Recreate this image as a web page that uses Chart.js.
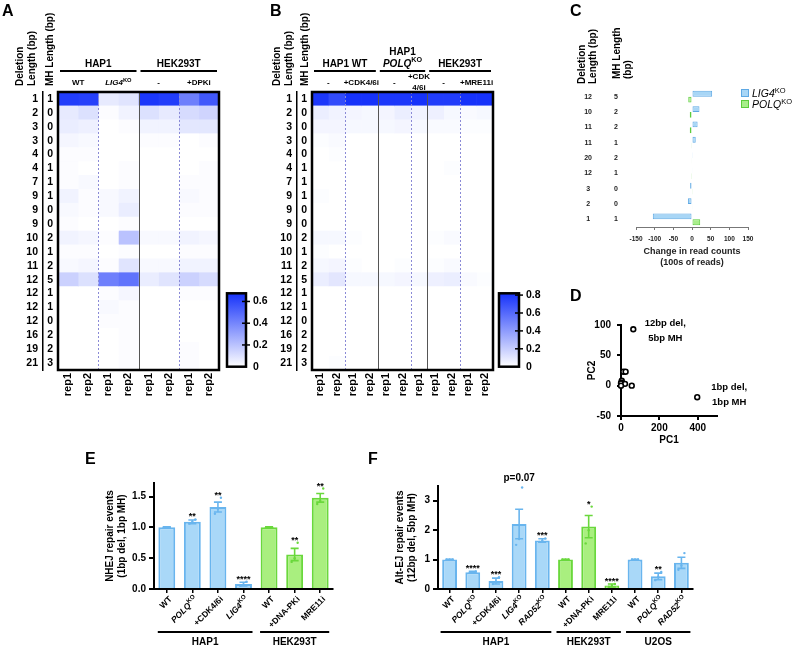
<!DOCTYPE html>
<html>
<head>
<meta charset="utf-8">
<title>Repair outcome profiles</title>
<script src="https://cdn.jsdelivr.net/npm/chart.js@4.4.1/dist/chart.umd.min.js"></script>
<style>
  body { margin: 0; background: #fff; }
  #fig { position: relative; width: 793px; height: 648px; overflow: hidden; font-family: 'Liberation Sans', Arial, sans-serif; color: #000; }
  #fig canvas { position: absolute; }
  .tag { position: absolute; font-size: 16px; line-height: 16px; font-weight: bold; }
  .key { position: absolute; font-size: 10.5px; line-height: 11px; white-space: nowrap; }
  .key span { display: inline-block; width: 6px; height: 6px; border: 1px solid; margin-right: 3px; }
  .key sup { font-size: 7.5px; line-height: 0; vertical-align: 4px; }
</style>
</head>
<body>
<div id="fig">
  <canvas id="heatA" width="270" height="400" style="left:0;top:0"></canvas>
  <canvas id="scaleA" width="50" height="100" style="left:220px;top:280px"></canvas>
  <canvas id="heatB" width="260" height="400" style="left:270px;top:0"></canvas>
  <canvas id="scaleB" width="50" height="100" style="left:492px;top:280px"></canvas>
  <canvas id="diffC" width="223" height="275" style="left:570px;top:0"></canvas>
  <canvas id="pcaD" width="223" height="165" style="left:570px;top:285px"></canvas>
  <canvas id="nhejE" width="255" height="198" style="left:80px;top:450px"></canvas>
  <canvas id="altF" width="335" height="198" style="left:360px;top:450px"></canvas>

  <div class="tag" style="left:2px;top:3px">A</div>
  <div class="tag" style="left:270px;top:3px">B</div>
  <div class="tag" style="left:570px;top:3px">C</div>
  <div class="tag" style="left:570px;top:288px">D</div>
  <div class="tag" style="left:85px;top:451px">E</div>
  <div class="tag" style="left:368px;top:451px">F</div>

  <div class="key" style="left:741px;top:88px"><span style="background:#a8d6f6;border-color:#5fa9e4"></span><i>LIG4</i><sup>KO</sup></div>
  <div class="key" style="left:741px;top:99px"><span style="background:#a8ee8a;border-color:#5ccc3c"></span><i>POLQ</i><sup>KO</sup></div>
</div>
<script>
// Fonts and defaults
const FONT = "'Liberation Sans', Arial, sans-serif";
Chart.defaults.font.family = FONT;
Chart.defaults.font.weight = 'bold';
Chart.defaults.color = '#000';
Chart.defaults.animation = false;
Chart.defaults.responsive = false;
Chart.defaults.devicePixelRatio = 1;
Chart.defaults.plugins.legend.display = false;
Chart.defaults.plugins.tooltip.enabled = false;

// ---------- Heatmap rows (shared by A and B) ----------
const hmDel = ['1','2','3','3','4','4','7','9','9','9','10','10','11','12','12','12','12','16','19','21'];
const hmMH  = ['1','0','0','0','0','1','1','1','0','0','2','1','2','5','1','1','0','2','2','3'];

// A: HAP1 WT, HAP1 LIG4KO, HEK293T -, HEK293T +DPKi (two reps each)
const aReps = ['rep1','rep2','rep1','rep2','rep1','rep2','rep1','rep2'];
const aFrac = [
  [0.64, 0.63, 0.07, 0.09, 0.66, 0.64, 0.42, 0.55],
  [0.07, 0.10, 0.01, 0.04, 0.10, 0.07, 0.12, 0.14],
  [0.06, 0.05, 0.00, 0.01, 0.04, 0.04, 0.08, 0.08],
  [0.03, 0.02, 0.00, 0.00, 0.01, 0.01, 0.00, 0.01],
  [0.01, 0.01, 0.00, 0.00, 0.00, 0.00, 0.00, 0.00],
  [0.01, 0.00, 0.00, 0.01, 0.00, 0.00, 0.00, 0.01],
  [0.01, 0.02, 0.00, 0.01, 0.00, 0.00, 0.01, 0.01],
  [0.04, 0.01, 0.02, 0.04, 0.00, 0.00, 0.02, 0.01],
  [0.02, 0.01, 0.02, 0.06, 0.00, 0.00, 0.01, 0.01],
  [0.01, 0.00, 0.00, 0.01, 0.00, 0.00, 0.00, 0.00],
  [0.04, 0.03, 0.01, 0.20, 0.02, 0.02, 0.04, 0.03],
  [0.01, 0.01, 0.00, 0.01, 0.00, 0.00, 0.01, 0.01],
  [0.02, 0.03, 0.01, 0.09, 0.02, 0.02, 0.04, 0.04],
  [0.15, 0.10, 0.42, 0.46, 0.06, 0.09, 0.15, 0.12],
  [0.00, 0.00, 0.01, 0.03, 0.00, 0.00, 0.01, 0.01],
  [0.00, 0.00, 0.02, 0.01, 0.00, 0.00, 0.00, 0.00],
  [0.00, 0.00, 0.01, 0.01, 0.00, 0.00, 0.00, 0.00],
  [0.00, 0.00, 0.00, 0.01, 0.00, 0.00, 0.00, 0.00],
  [0.00, 0.00, 0.00, 0.01, 0.00, 0.00, 0.01, 0.00],
  [0.00, 0.00, 0.00, 0.01, 0.00, 0.00, 0.01, 0.00]
];
const aMax = 0.675;
const aScaleTicks = [0, 0.2, 0.4, 0.6];

// B: HAP1 WT -/+CDK4/6i, HAP1 POLQKO -/+CDK4/6i, HEK293T -/+MRE11i
const bReps = ['rep1','rep2','rep1','rep2','rep1','rep2','rep1','rep1','rep2','rep1','rep2'];
const bFrac = [
  [0.80, 0.72, 0.82, 0.82, 0.80, 0.80, 0.82, 0.78, 0.78, 0.82, 0.82],
  [0.07, 0.05, 0.04, 0.03, 0.04, 0.07, 0.05, 0.06, 0.03, 0.02, 0.03],
  [0.04, 0.04, 0.03, 0.03, 0.03, 0.04, 0.03, 0.02, 0.02, 0.01, 0.01],
  [0.01, 0.02, 0.00, 0.00, 0.00, 0.00, 0.00, 0.00, 0.00, 0.00, 0.00],
  [0.00, 0.01, 0.00, 0.00, 0.00, 0.00, 0.00, 0.00, 0.00, 0.00, 0.00],
  [0.00, 0.00, 0.00, 0.00, 0.00, 0.00, 0.00, 0.00, 0.01, 0.00, 0.00],
  [0.00, 0.00, 0.00, 0.00, 0.00, 0.00, 0.00, 0.00, 0.00, 0.00, 0.00],
  [0.01, 0.00, 0.00, 0.00, 0.00, 0.00, 0.00, 0.00, 0.00, 0.00, 0.00],
  [0.00, 0.00, 0.00, 0.00, 0.00, 0.00, 0.00, 0.00, 0.00, 0.00, 0.00],
  [0.00, 0.00, 0.00, 0.00, 0.00, 0.00, 0.00, 0.00, 0.00, 0.00, 0.00],
  [0.03, 0.03, 0.01, 0.00, 0.00, 0.00, 0.00, 0.01, 0.02, 0.00, 0.00],
  [0.01, 0.00, 0.00, 0.00, 0.00, 0.00, 0.00, 0.00, 0.00, 0.00, 0.00],
  [0.03, 0.04, 0.01, 0.00, 0.00, 0.01, 0.00, 0.01, 0.02, 0.00, 0.00],
  [0.07, 0.10, 0.03, 0.03, 0.03, 0.04, 0.03, 0.06, 0.07, 0.02, 0.01],
  [0.00, 0.00, 0.00, 0.00, 0.00, 0.00, 0.00, 0.00, 0.00, 0.00, 0.00],
  [0.00, 0.00, 0.00, 0.00, 0.00, 0.00, 0.00, 0.00, 0.00, 0.00, 0.00],
  [0.00, 0.00, 0.00, 0.00, 0.00, 0.00, 0.00, 0.00, 0.00, 0.00, 0.00],
  [0.00, 0.00, 0.00, 0.00, 0.00, 0.00, 0.00, 0.00, 0.00, 0.00, 0.00],
  [0.00, 0.00, 0.00, 0.00, 0.00, 0.00, 0.00, 0.00, 0.00, 0.00, 0.00],
  [0.00, 0.01, 0.00, 0.00, 0.00, 0.00, 0.00, 0.00, 0.00, 0.00, 0.00]
];
const bMax = 0.82;
const bScaleTicks = [0, 0.2, 0.4, 0.6, 0.8];

// ---------- C: change in read counts (100s of reads) ----------
const cDel = ['12','10','11','11','20','12','3','2','1'];
const cMH  = ['5','2','2','1','2','1','0','0','1'];
const cLig4 = [54, 20, 15, 10, 2, 1, -5, -11, -105];
const cPolq = [-10, -6, -6, -2, -1, -0.5, 2, 1, 22];
const cTicks = [-150, -100, -50, 0, 50, 100, 150];

// ---------- D: PCA ----------
const pc1 = [64, 397, 12, 24, 4, 2, 6, 0, 21, 56, 0];
const pc2 = [93, -19, 23, 23, 8, 5, 3, 4, 3, 0, 0];
const pcNotes = [['12bp del,', '5bp MH'], ['1bp del,', '1bp MH']];
const dXTicks = [0, 200, 400];
const dYTicks = [-50, 0, 50, 100];

// ---------- E: NHEJ repair events (1bp del, 1bp MH) ----------
const eLabels = ['WT', 'POLQ^KO', '+CDK4/6i', 'LIG4^KO', 'WT', '+DNA-PKi', 'MRE11i'];
const eVals  = [1.00, 1.09, 1.33, 0.08, 1.00, 0.56, 1.48];
const eErrs  = [0.01, 0.03, 0.08, 0.03, 0.01, 0.10, 0.07];
const eReps  = [[1, 1, 1], [1.06, 1.09, 1.13], [1.22, 1.30, 1.48], [0.05, 0.07, 0.12],
                [1, 1, 1], [0.44, 0.50, 0.75], [1.38, 1.43, 1.63]];
const eStars = ['', '**', '**', '****', '', '**', '**'];
const eTone  = ['b', 'b', 'b', 'b', 'g', 'g', 'g'];
const eGroups = [{label: 'HAP1', from: 0, to: 3}, {label: 'HEK293T', from: 4, to: 6}];
const eTicks = [0, 0.5, 1, 1.5];

// ---------- F: Alt-EJ repair events (12bp del, 5bp MH) ----------
const fLabels = ['WT', 'POLQ^KO', '+CDK4/6i', 'LIG4^KO', 'RAD52^KO', 'WT', '+DNA-PKi', 'MRE11i', 'WT', 'POLQ^KO', 'RAD52^KO'];
const fVals  = [1.00, 0.57, 0.27, 2.21, 1.65, 1.00, 2.12, 0.12, 1.00, 0.43, 0.89];
const fErrs  = [0.01, 0.03, 0.10, 0.50, 0.06, 0.01, 0.38, 0.05, 0.01, 0.11, 0.19];
const fReps  = [[1, 1, 1], [0.55, 0.57, 0.60], [0.17, 0.25, 0.40], [1.50, 1.70, 3.45], [1.60, 1.64, 1.72],
                [1, 1, 1], [1.55, 2.00, 2.80], [0.08, 0.12, 0.17], [1, 1, 1], [0.30, 0.42, 0.58], [0.65, 0.80, 1.22]];
const fStars = ['', '****', '***', '', '***', '', '*', '****', '', '**', ''];
const fTone  = ['b', 'b', 'b', 'b', 'b', 'g', 'g', 'g', 'b', 'b', 'b'];
const fGroups = [{label: 'HAP1', from: 0, to: 4}, {label: 'HEK293T', from: 5, to: 7}, {label: 'U2OS', from: 8, to: 10}];
const fNote = {at: 3, y: 3.75, text: 'p=0.07'};
const fTicks = [0, 1, 2, 3];

// Bar colours
const FILL = {b: '#a9d8f8', g: '#a9ef7f'};
const LINE = {b: '#69b5ee', g: '#6ad83c'};

// ---------- helpers ----------
function heatColor(v, max) {
  const t = Math.max(0, Math.min(1, v / max));
  const r = Math.round(255 - t * (255 - 22));
  const g = Math.round(255 - t * (255 - 50));
  const b = Math.round(255 - t * 5);
  return `rgb(${r},${g},${b})`;
}

// "POLQ^KO" -> italic POLQ + superscript KO
function richParts(s) {
  const i = s.indexOf('^');
  if (i < 0) return [{t: s}];
  return [{t: s.slice(0, i), it: true}, {t: s.slice(i + 1), sup: true}];
}

function drawRich(ctx, s, x, y, size, align) {
  const parts = richParts(s);
  const fontOf = p => (p.it ? 'italic ' : '') + 'bold ' + (p.sup ? size * 0.72 : size) + 'px ' + FONT;
  let w = 0;
  parts.forEach(p => { ctx.font = fontOf(p); w += ctx.measureText(p.t).width; });
  let cx = align === 'center' ? x - w / 2 : (align === 'right' ? x - w : x);
  ctx.textAlign = 'left';
  ctx.textBaseline = 'middle';
  parts.forEach(p => {
    ctx.font = fontOf(p);
    ctx.fillText(p.t, cx, p.sup ? y - size * 0.38 : y);
    cx += ctx.measureText(p.t).width;
  });
}

// Text lines turned 90 degrees, reading upward, starting at "bottom"
function drawUpright(ctx, lines, cx, bottom, gap, size) {
  lines.forEach((ln, i) => {
    const x = cx + (i - (lines.length - 1) / 2) * gap;
    ctx.save();
    ctx.translate(x, bottom);
    ctx.rotate(-Math.PI / 2);
    ctx.font = 'bold ' + size + 'px ' + FONT;
    ctx.fillStyle = '#000';
    ctx.textAlign = 'left';
    ctx.textBaseline = 'middle';
    ctx.fillText(ln, 0, 0);
    ctx.restore();
  });
}

const fixedTicks = list => scale => { scale.ticks = list.map(v => ({value: v})); };

/**
 * Heatmap as stacked horizontal bars: one dataset per column, one category per row
 */
function heatmap(id, frac, max, reps, look) {
  const datasets = reps.map((r, c) => ({
    data: hmDel.map(() => 1),
    backgroundColor: frac.map(row => heatColor(row[c], max)),
    borderWidth: 0,
    barPercentage: 1,
    categoryPercentage: 1
  }));

  const deco = {
    id: 'heatDeco',
    afterDatasetsDraw(chart) {
      const {ctx, chartArea: a} = chart;
      const x = chart.scales.x;
      ctx.save();
      // column separators
      look.seps.forEach(s => {
        const px = Math.round(x.getPixelForValue(s.at)) + 0.5;
        ctx.beginPath();
        ctx.setLineDash(s.dash ? [2, 2] : []);
        ctx.strokeStyle = s.dash ? '#8a8ad6' : '#555';
        ctx.lineWidth = 1;
        ctx.moveTo(px, a.top);
        ctx.lineTo(px, a.bottom);
        ctx.stroke();
      });
      ctx.setLineDash([]);
      // frame
      ctx.lineWidth = 2.5;
      ctx.strokeStyle = '#000';
      ctx.strokeRect(a.left, a.top, a.right - a.left, a.bottom - a.top);
      // cell line headers
      ctx.fillStyle = '#000';
      look.groups.forEach(g => {
        const x1 = x.getPixelForValue(g.from), x2 = x.getPixelForValue(g.to);
        const cx = (x1 + x2) / 2;
        g.lines.forEach((ln, i) => drawRich(ctx, ln, cx, a.top - 28 - (g.lines.length - 1 - i) * 12, 10, 'center'));
        ctx.lineWidth = 2;
        ctx.beginPath();
        ctx.moveTo(x1 + 2, a.top - 21);
        ctx.lineTo(x2 - 2, a.top - 21);
        ctx.stroke();
      });
      look.subs.forEach(g => {
        const cx = (x.getPixelForValue(g.from) + x.getPixelForValue(g.to)) / 2;
        if (g.lines.length === 1) drawRich(ctx, g.lines[0], cx, a.top - 9, 8, 'center');
        else g.lines.forEach((ln, i) => drawRich(ctx, ln, cx, a.top - 15 + i * 11, 8, 'center'));
      });
      // row titles
      drawUpright(ctx, ['Deletion', 'Length (bp)'], look.delX, a.top - 6, 12, 10);
      drawUpright(ctx, ['MH Length (bp)'], look.mhX, a.top - 6, 12, 10);
      ctx.restore();
    }
  };

  return new Chart(document.getElementById(id), {
    type: 'bar',
    data: {labels: hmDel, datasets: datasets},
    options: {
      indexAxis: 'y',
      layout: {padding: look.padding},
      scales: {
        x: {
          type: 'linear', stacked: true, min: 0, max: reps.length,
          grid: {display: false, drawTicks: false},
          border: {display: false},
          afterBuildTicks: fixedTicks(reps.map((r, i) => i + 0.5)),
          ticks: {autoSkip: false, minRotation: 90, maxRotation: 90, padding: 3,
                  font: {size: 11, weight: 'bold'}, callback: (v, i) => reps[i]},
          afterFit: s => { s.height = 30; }
        },
        y: {
          type: 'category', stacked: true, position: 'left', weight: 1,
          grid: {display: false, drawTicks: false},
          border: {display: true, color: '#000', width: 1.5},
          ticks: {autoSkip: false, padding: 5, font: {size: 10.5, weight: 'bold'}},
          afterFit: s => { s.width = look.delW; }
        },
        yMH: {
          type: 'category', labels: hmMH, position: 'left', weight: 0,
          grid: {display: false, drawTicks: false},
          border: {display: false},
          ticks: {autoSkip: false, padding: 5, font: {size: 10.5, weight: 'bold'}},
          afterFit: s => { s.width = look.mhW; }
        }
      }
    },
    plugins: [deco]
  });
}

/**
 * Vertical colour scale next to a heatmap
 */
function colorScale(id, max, ticks, pad) {
  const frame = {
    id: 'scaleFrame',
    afterDatasetsDraw(chart) {
      const {ctx, chartArea: a} = chart;
      const y = chart.scales.y;
      ctx.save();
      ctx.lineWidth = 2.5;
      ctx.strokeStyle = '#000';
      ctx.strokeRect(a.left, a.top, a.right - a.left, a.bottom - a.top);
      ctx.lineWidth = 1.5;
      ticks.filter(v => v > 0).forEach(v => {
        const py = y.getPixelForValue(v);
        ctx.beginPath();
        ctx.moveTo(a.right - 4, py);
        ctx.lineTo(a.right + 4, py);
        ctx.stroke();
      });
      ctx.restore();
    }
  };
  return new Chart(document.getElementById(id), {
    type: 'bar',
    data: {
      labels: [''],
      datasets: [{
        data: [max],
        borderWidth: 0,
        barPercentage: 1,
        categoryPercentage: 1,
        backgroundColor: c => {
          const a = c.chart.chartArea;
          if (!a) return '#fff';
          const g = c.chart.ctx.createLinearGradient(0, a.bottom, 0, a.top);
          g.addColorStop(0, '#ffffff');
          g.addColorStop(0.5, heatColor(max * 0.5, max));
          g.addColorStop(1, heatColor(max, max));
          return g;
        }
      }]
    },
    options: {
      layout: {padding: {left: pad.left, top: pad.top, bottom: pad.bottom, right: 0}},
      scales: {
        x: {display: false},
        y: {
          position: 'right', min: 0, max: max,
          grid: {display: false, drawTicks: false},
          border: {display: false},
          afterBuildTicks: fixedTicks(ticks),
          ticks: {padding: 7, font: {size: 10.5, weight: 'bold'}},
          afterFit: s => { s.width = pad.w; }
        }
      }
    },
    plugins: [frame]
  });
}

/**
 * Bar chart of repair events with SEM bars, replicate dots, stars and cell line groups
 */
function repairChart(id, d) {
  const deco = {
    id: 'repairDeco',
    afterDatasetsDraw(chart) {
      const {ctx, chartArea: a} = chart;
      const x = chart.scales.x, y = chart.scales.y;
      ctx.save();
      d.vals.forEach((v, i) => {
        const px = x.getPixelForValue(i);
        const col = LINE[d.tone[i]];
        const hi = y.getPixelForValue(v + d.errs[i]);
        const lo = y.getPixelForValue(Math.max(0, v - d.errs[i]));
        // error bar
        ctx.strokeStyle = col;
        ctx.lineWidth = 1.6;
        ctx.beginPath();
        ctx.moveTo(px, lo); ctx.lineTo(px, hi);
        ctx.moveTo(px - 4, hi); ctx.lineTo(px + 4, hi);
        ctx.moveTo(px - 4, lo); ctx.lineTo(px + 4, lo);
        ctx.stroke();
        // replicate dots
        ctx.fillStyle = col;
        d.reps[i].forEach((r, k) => {
          ctx.beginPath();
          ctx.arc(px + (k - 1) * 3, y.getPixelForValue(r), 1.2, 0, Math.PI * 2);
          ctx.fill();
        });
        // significance stars
        if (d.stars[i]) {
          const top = Math.min(hi, ...d.reps[i].map(r => y.getPixelForValue(r)));
          ctx.fillStyle = '#000';
          ctx.font = 'bold 9px ' + FONT;
          ctx.textAlign = 'center';
          ctx.textBaseline = 'alphabetic';
          ctx.fillText(d.stars[i], px, top);
        }
        // category label at 45 degrees
        ctx.save();
        ctx.translate(px + 4, a.bottom + 9);
        ctx.rotate(-Math.PI / 4);
        ctx.fillStyle = '#000';
        drawRich(ctx, d.labels[i], 0, 0, 8.5, 'right');
        ctx.restore();
      });
      // cell line groups
      d.groups.forEach(g => {
        const x1 = x.getPixelForValue(g.from) - 9, x2 = x.getPixelForValue(g.to) + 9;
        ctx.strokeStyle = '#000';
        ctx.lineWidth = 2;
        ctx.beginPath();
        ctx.moveTo(x1, chart.height - 16);
        ctx.lineTo(x2, chart.height - 16);
        ctx.stroke();
        ctx.fillStyle = '#000';
        ctx.font = 'bold 10px ' + FONT;
        ctx.textAlign = 'center';
        ctx.textBaseline = 'middle';
        ctx.fillText(g.label, (x1 + x2) / 2, chart.height - 6);
      });
      if (d.note) {
        ctx.fillStyle = '#000';
        ctx.font = 'bold 10px ' + FONT;
        ctx.textAlign = 'center';
        ctx.textBaseline = 'middle';
        ctx.fillText(d.note.text, x.getPixelForValue(d.note.at), y.getPixelForValue(d.note.y));
      }
      ctx.restore();
    }
  };

  return new Chart(document.getElementById(id), {
    type: 'bar',
    data: {
      labels: d.labels,
      datasets: [{
        data: d.vals,
        backgroundColor: d.tone.map(t => FILL[t]),
        borderColor: d.tone.map(t => LINE[t]),
        borderWidth: 2,
        barPercentage: d.barPct,
        categoryPercentage: 1
      }]
    },
    options: {
      layout: {padding: {left: d.padLeft, top: d.padTop, right: 2, bottom: 21}},
      scales: {
        x: {
          grid: {drawOnChartArea: false, offset: false, tickLength: 4, color: '#000', lineWidth: 1.5},
          border: {color: '#000', width: 2},
          ticks: {display: false},
          afterFit: s => { s.height = 38; }
        },
        y: {
          min: 0, max: d.yMax,
          afterBuildTicks: fixedTicks(d.yTicks),
          grid: {drawOnChartArea: false, tickLength: 5, color: '#000', lineWidth: 2},
          border: {color: '#000', width: 2},
          ticks: {padding: 3, font: {size: 10, weight: 'bold'}, callback: v => d.fmt(v)},
          title: {display: true, text: d.yTitle, font: {size: 10, weight: 'bold'}, padding: {top: 4, bottom: 4}},
          afterFit: s => { s.width = d.yW; }
        }
      }
    },
    plugins: [deco]
  });
}

// ---------- A ----------
heatmap('heatA', aFrac, aMax, aReps, {
  padding: {left: 22, top: 92, right: 51, bottom: 0},
  delW: 21, mhW: 15, delX: 26, mhX: 50,
  seps: [{at: 2, dash: true}, {at: 4}, {at: 6, dash: true}],
  groups: [{from: 0, to: 4, lines: ['HAP1']}, {from: 4, to: 8, lines: ['HEK293T']}],
  subs: [{from: 0, to: 2, lines: ['WT']}, {from: 2, to: 4, lines: ['LIG4^KO']},
         {from: 4, to: 6, lines: ['-']}, {from: 6, to: 8, lines: ['+DPKi']}]
});
colorScale('scaleA', aMax, aScaleTicks, {left: 7, top: 9, bottom: 10, w: 24});

// ---------- B ----------
heatmap('heatB', bFrac, bMax, bReps, {
  padding: {left: 7, top: 92, right: 37, bottom: 0},
  delW: 20, mhW: 15, delX: 13, mhX: 35,
  seps: [{at: 2, dash: true}, {at: 4}, {at: 6, dash: true}, {at: 7}, {at: 9, dash: true}],
  groups: [{from: 0, to: 4, lines: ['HAP1 WT']}, {from: 4, to: 7, lines: ['HAP1', 'POLQ^KO']},
           {from: 7, to: 11, lines: ['HEK293T']}],
  subs: [{from: 0, to: 2, lines: ['-']}, {from: 2, to: 4, lines: ['+CDK4/6i']},
         {from: 4, to: 6, lines: ['-']}, {from: 6, to: 7, lines: ['+CDK', '4/6i']},
         {from: 7, to: 9, lines: ['-']}, {from: 9, to: 11, lines: ['+MRE11i']}]
});
colorScale('scaleB', bMax, bScaleTicks, {left: 7, top: 8, bottom: 10, w: 23});

// ---------- C ----------
const cTitles = {
  id: 'cTitles',
  afterDraw(chart) {
    const {ctx, chartArea: a} = chart;
    drawUpright(ctx, ['Deletion', 'Length (bp)'], 17.5, a.top - 5, 11, 10);
    drawUpright(ctx, ['MH Length', '(bp)'], 52.5, a.top - 10, 11, 10);
  }
};
new Chart(document.getElementById('diffC'), {
  type: 'bar',
  data: {
    labels: cDel,
    datasets: [
      {label: 'LIG4KO', data: cLig4, backgroundColor: '#a8d6f6', borderColor: '#5fa9e4', borderWidth: 1, borderSkipped: false},
      {label: 'POLQKO', data: cPolq, backgroundColor: '#a8ee8a', borderColor: '#5ccc3c', borderWidth: 1, borderSkipped: false}
    ]
  },
  options: {
    indexAxis: 'y',
    datasets: {bar: {categoryPercentage: 0.76, barPercentage: 1}},
    layout: {padding: {left: 8, top: 89, right: 45, bottom: 7}},
    scales: {
      x: {
        min: -150, max: 150,
        afterBuildTicks: fixedTicks(cTicks),
        grid: {drawOnChartArea: false, tickLength: 3, color: '#777'},
        border: {color: '#777', width: 1},
        ticks: {autoSkip: false, minRotation: 0, maxRotation: 0, padding: 5, color: '#222', font: {size: 6.5, weight: 'bold'}},
        title: {display: true, text: ['Change in read counts', '(100s of reads)'], color: '#222',
                font: {size: 9, weight: 'bold'}, padding: {top: 3, bottom: 0}},
        afterFit: s => { s.height = 41; }
      },
      y: {
        position: 'left', weight: 1,
        grid: {display: false, drawTicks: false}, border: {display: false},
        ticks: {autoSkip: false, crossAlign: 'center', padding: 8, color: '#222', font: {size: 7, weight: 'bold'}},
        afterFit: s => { s.width = 22; }
      },
      yMH: {
        type: 'category', labels: cMH, position: 'left', weight: 0,
        grid: {display: false, drawTicks: false}, border: {display: false},
        ticks: {autoSkip: false, padding: 18, color: '#222', font: {size: 7, weight: 'bold'}},
        afterFit: s => { s.width = 36; }
      }
    }
  },
  plugins: [cTitles]
});

// ---------- D ----------
const dNotes = {
  id: 'dNotes',
  afterDatasetsDraw(chart) {
    const {ctx} = chart;
    const x = chart.scales.x, y = chart.scales.y;
    const offsets = [[32, -6], [32, -10]];
    ctx.save();
    ctx.fillStyle = '#000';
    ctx.font = 'bold 9.5px ' + FONT;
    ctx.textAlign = 'center';
    ctx.textBaseline = 'middle';
    pcNotes.forEach((lines, i) => {
      const px = x.getPixelForValue(pc1[i]) + offsets[i][0];
      const py = y.getPixelForValue(pc2[i]) + offsets[i][1];
      lines.forEach((ln, k) => ctx.fillText(ln, px, py + k * 15));
    });
    ctx.restore();
  }
};
new Chart(document.getElementById('pcaD'), {
  type: 'scatter',
  data: {
    datasets: [{
      data: pc1.map((v, i) => ({x: v, y: pc2[i]})),
      pointRadius: 2.4,
      pointBorderWidth: 1.6,
      pointBorderColor: '#000',
      pointBackgroundColor: '#fff',
      clip: false
    }]
  },
  options: {
    layout: {padding: {left: 12, top: 40, right: 76, bottom: 4}},
    scales: {
      x: {
        type: 'linear', min: 0, max: 500,
        afterBuildTicks: fixedTicks(dXTicks),
        grid: {drawOnChartArea: false, color: '#000', lineWidth: 2, tickLength: 4},
        border: {color: '#000', width: 2},
        ticks: {padding: 2, font: {size: 10, weight: 'bold'}},
        title: {display: true, text: 'PC1', font: {size: 10, weight: 'bold'}, padding: {top: 0, bottom: 0}},
        afterFit: s => { s.height = 30; }
      },
      y: {
        min: -50, max: 100,
        afterBuildTicks: fixedTicks(dYTicks),
        grid: {drawOnChartArea: false, color: '#000', lineWidth: 2, tickLength: 4},
        border: {color: '#000', width: 2},
        ticks: {padding: 6, font: {size: 10, weight: 'bold'}},
        title: {display: true, text: 'PC2', font: {size: 10, weight: 'bold'}, padding: {top: 4, bottom: 4}},
        afterFit: s => { s.width = 39; }
      }
    }
  },
  plugins: [dNotes]
});

// ---------- E ----------
repairChart('nhejE', {
  labels: eLabels, vals: eVals, errs: eErrs, reps: eReps, stars: eStars, tone: eTone, groups: eGroups,
  yMax: 1.72, yTicks: eTicks, fmt: v => v.toFixed(1),
  yTitle: ['NHEJ repair events', '(1bp del, 1bp MH)'],
  yW: 54, padLeft: 20, padTop: 33, barPct: 0.66
});

// ---------- F ----------
repairChart('altF', {
  labels: fLabels, vals: fVals, errs: fErrs, reps: fReps, stars: fStars, tone: fTone, groups: fGroups,
  note: fNote,
  yMax: 3.5, yTicks: fTicks, fmt: v => String(v),
  yTitle: ['Alt-EJ repair events', '(12bp del, 5bp MH)'],
  yW: 48, padLeft: 30, padTop: 36, barPct: 0.64
});
</script>
</body>
</html>
